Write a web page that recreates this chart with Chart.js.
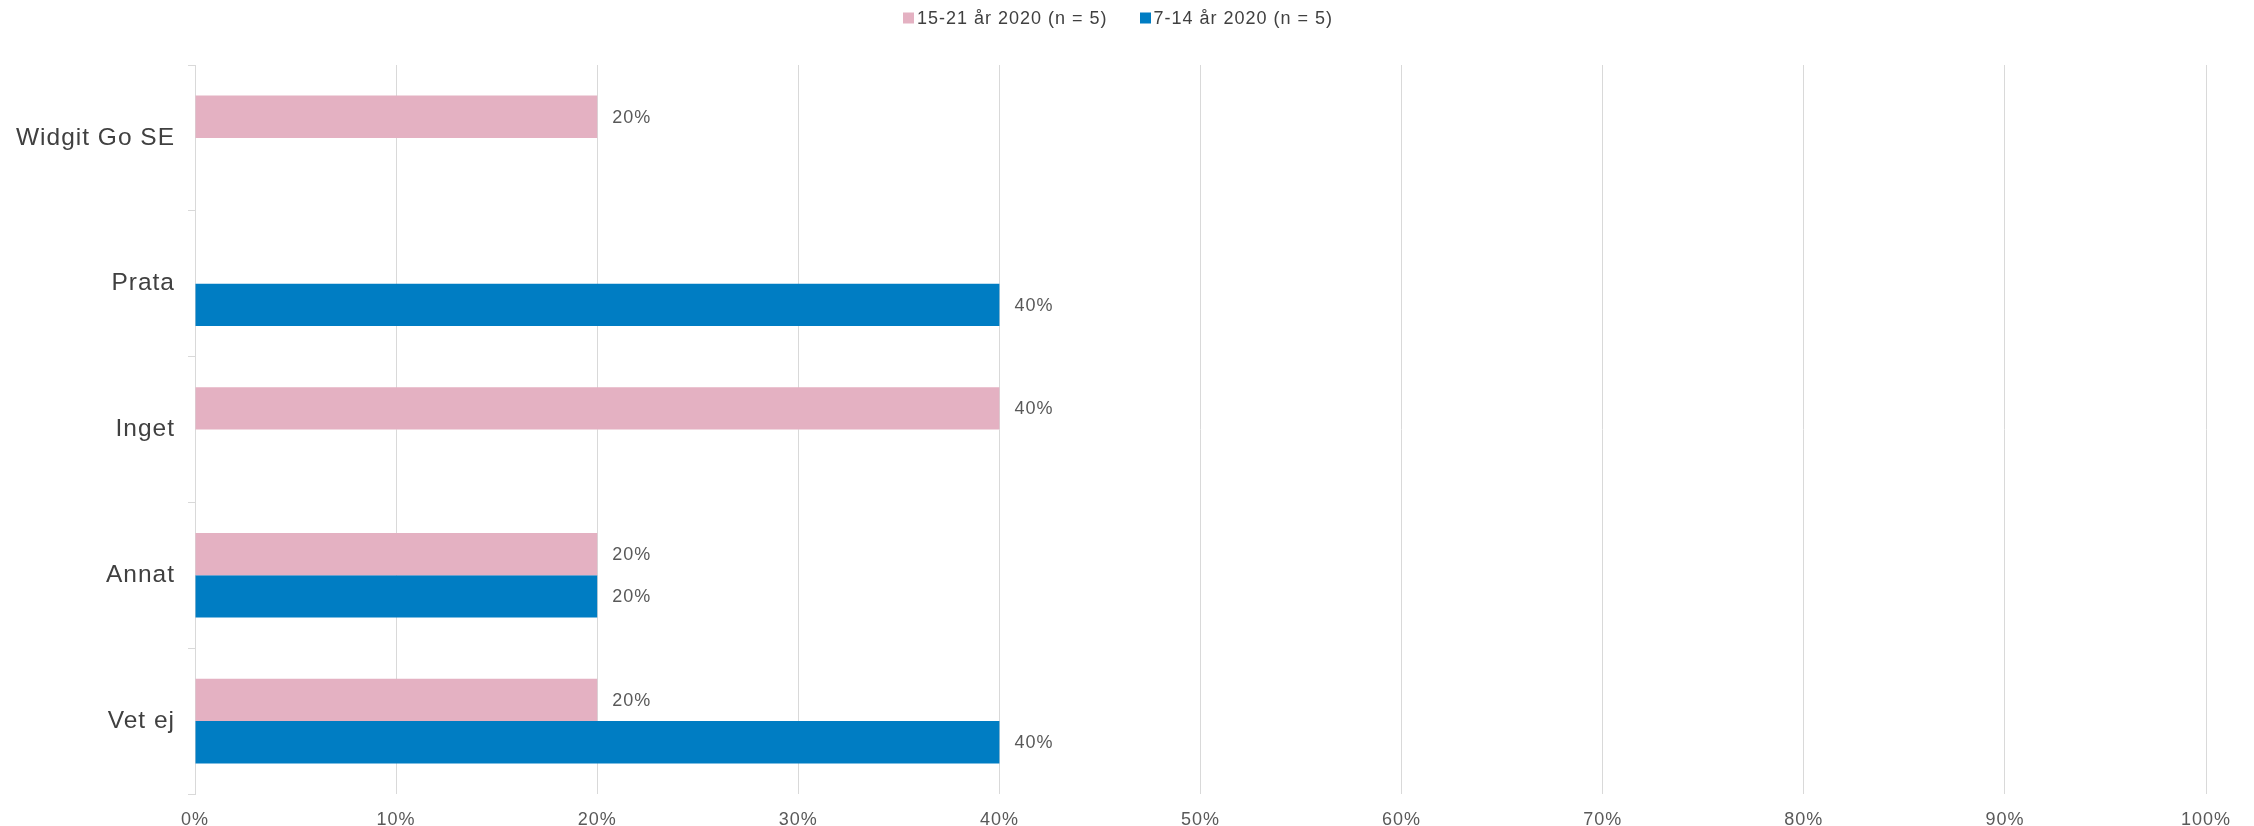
<!DOCTYPE html>
<html><head><meta charset="utf-8">
<script src="https://cdn.jsdelivr.net/npm/chart.js@4.4.1/dist/chart.umd.min.js"></script>
<style>html,body{margin:0;padding:0;background:#fff;overflow:hidden}#wrap{width:2254px;height:826px;position:relative}</style>
</head><body><div id="wrap"><canvas id="c"></canvas></div>
<script>
const categories = ['Widgit Go SE', 'Prata', 'Inget', 'Annat', 'Vet ej'];
const seriesNames = ['15-21 år 2020 (n = 5)', '7-14 år 2020 (n = 5)'];
const values1521 = [20, null, 40, 20, 20];
const values714 = [null, 40, null, 20, 40];
const xMin = 0, xMax = 100, xStep = 10;
const seriesColors = ['#E4B1C2', '#007DC3'];

const FONT = '"Liberation Sans", Arial, sans-serif';
const LS = '1px';

const spacingPlugin = {
  id: 'spacing',
  beforeUpdate(c) { c.ctx.letterSpacing = LS; },
  beforeLayout(c) { c.ctx.letterSpacing = LS; },
  beforeDraw(c) { c.ctx.letterSpacing = LS; }
};

const valueLabels = {
  id: 'valueLabels',
  afterDatasetsDraw(chart) {
    const ctx = chart.ctx;
    ctx.save();
    ctx.font = '18px ' + FONT;
    ctx.letterSpacing = LS;
    ctx.fillStyle = '#595959';
    ctx.textBaseline = 'middle';
    ctx.textAlign = 'left';
    chart.data.datasets.forEach((ds, i) => {
      const meta = chart.getDatasetMeta(i);
      meta.data.forEach((bar, j) => {
        const v = ds.data[j];
        if (v === null || v === undefined) return;
        ctx.fillText(v + '%', bar.x + 15, bar.y + 1);
      });
    });
    ctx.restore();
  }
};

const customLegend = {
  id: 'customLegend',
  afterDraw(chart) {
    const ctx = chart.ctx;
    ctx.save();
    ctx.font = '18px ' + FONT;
    ctx.letterSpacing = LS;
    ctx.textBaseline = 'middle';
    ctx.textAlign = 'left';
    const box = 11, gapText = 3, gapItem = 32, cy = 18;
    const items = chart.data.datasets.map(ds => ({ label: ds.label, color: ds.backgroundColor, w: ctx.measureText(ds.label).width }));
    let total = 0;
    items.forEach((it, i) => { total += box + gapText + it.w + (i ? gapItem : 0); });
    let x = 1118 - total / 2;
    items.forEach(it => {
      ctx.fillStyle = it.color;
      ctx.fillRect(Math.round(x), cy - box / 2, box, box);
      ctx.fillStyle = '#404040';
      ctx.fillText(it.label, x + box + gapText, cy + 1);
      x += box + gapText + it.w + gapItem;
    });
    ctx.restore();
  }
};

new Chart(document.getElementById('c'), {
  type: 'bar',
  data: {
    labels: categories,
    datasets: [
      { label: seriesNames[0], data: values1521, backgroundColor: seriesColors[0], borderWidth: 0 },
      { label: seriesNames[1], data: values714, backgroundColor: seriesColors[1], borderWidth: 0 }
    ]
  },
  options: {
    indexAxis: 'y',
    responsive: true,
    maintainAspectRatio: false,
    animation: false,
    devicePixelRatio: 1,
    categoryPercentage: 0.58,
    barPercentage: 1,
    layout: { padding: { top: 65, right: 48, left: 0, bottom: 0 } },
    plugins: { legend: { display: false }, tooltip: { enabled: false } },
    scales: {
      x: {
        type: 'linear', min: xMin, max: xMax, position: 'bottom',
        ticks: { stepSize: xStep, callback: v => v + '%', color: '#595959', font: { size: 18, family: FONT }, padding: 15 },
        grid: { color: '#d9d9d9', drawTicks: false, lineWidth: 1 },
        border: { display: false },
        afterFit: s => { s.height = 32; }
      },
      y: {
        type: 'category',
        ticks: { color: '#404040', font: { size: 24.5, family: FONT }, padding: 13 },
        grid: { offset: true, drawOnChartArea: false, tickLength: 7, color: '#d9d9d9' },
        border: { color: '#d9d9d9', width: 1 },
        afterFit: s => { s.width = 195; }
      }
    }
  },
  plugins: [spacingPlugin, valueLabels, customLegend]
});
</script>
</body></html>
